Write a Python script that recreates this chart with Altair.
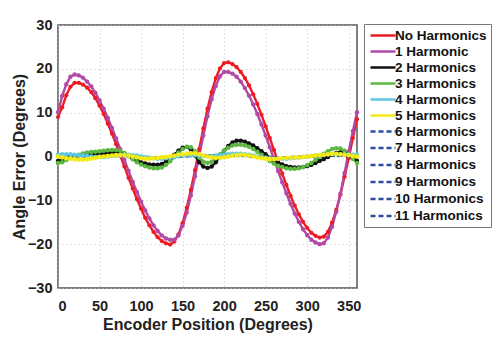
import altair as alt
import pandas as pd

angles = list(range(0, 361, 5))

series_names = ["No Harmonics", "1 Harmonic", "2 Harmonics", "3 Harmonics", "4 Harmonics",
                "5 Harmonics", "6 Harmonics", "7 Harmonics", "8 Harmonics", "9 Harmonics",
                "10 Harmonics", "11 Harmonics"]

no_harm = [9.0, 11.2, 14.0, 15.9, 16.8, 16.8, 16.4, 15.7, 14.7, 13.3, 11.6, 9.7, 7.5, 5.2, 2.8, 0.2,
           -2.3, -4.9, -7.3, -9.7, -11.9, -14.0, -15.7, -17.2, -18.4, -19.3, -19.8, -20.1, -19.4, -17.8,
           -15.2, -11.7, -7.6, -3.1, 1.7, 6.4, 10.9, 14.7, 17.9, 20.1, 21.3, 21.5, 21.1, 20.4, 19.3,
           17.9, 16.2, 14.2, 12.0, 9.5, 6.9, 4.2, 1.5, -1.3, -3.9, -6.5, -9.0, -11.2, -13.2, -14.9,
           -16.3, -17.4, -18.1, -18.5, -18.3, -17.2, -15.1, -12.2, -8.7, -4.6, -0.4, 4.2, 8.5]
harm1 = [10.1, 13.8, 16.5, 18.2, 18.7, 18.5, 18.0, 17.1, 16.0, 14.5, 12.8, 10.9, 8.8, 6.5, 4.1, 1.7,
         -0.8, -3.3, -5.8, -8.1, -10.3, -12.3, -14.1, -15.7, -17.0, -18.0, -18.7, -19.0, -19.0, -18.0,
         -15.8, -12.8, -8.9, -4.5, 0.2, 4.8, 9.2, 13.1, 16.1, 18.3, 19.3, 19.3, 18.9, 18.2, 17.1,
         15.6, 13.9, 11.9, 9.7, 7.3, 4.8, 2.1, -0.6, -3.3, -5.9, -8.4, -10.8, -13.0, -14.9, -16.6,
         -17.9, -19.0, -19.6, -20.0, -19.8, -18.5, -16.0, -12.6, -8.5, -3.8, 1.1, 5.8, 10.1]
harm2 = [-1.0, -0.7, -0.4, -0.1, 0.1, 0.3, 0.4, 0.5, 0.5, 0.6, 0.6, 0.7, 0.8, 0.9, 0.9, 0.8,
         0.5, 0.1, -0.4, -0.9, -1.3, -1.6, -1.8, -1.9, -1.9, -1.7, -1.2, -0.5, 0.4, 1.3,
         2.0, 2.2, 1.6, 0.2, -1.3, -2.3, -2.6, -2.3, -1.3, 0.0, 1.3, 2.4, 3.2, 3.6, 3.6,
         3.4, 3.0, 2.5, 1.9, 1.2, 0.5, -0.3, -0.9, -1.4, -1.8, -2.2, -2.4, -2.5, -2.5, -2.4,
         -2.2, -1.9, -1.5, -1.0, -0.6, -0.1, 0.4, 0.8, 1.0, 0.8, 0.3, -0.4, -1.0]
harm3 = [-1.5, -1.3, -0.8, -0.3, 0.1, 0.4, 0.7, 0.9, 1.0, 1.1, 1.2, 1.3, 1.4, 1.5, 1.5, 1.3,
         0.8, 0.1, -0.6, -1.3, -1.8, -2.2, -2.5, -2.7, -2.7, -2.5, -1.9, -1.1, -0.1, 0.9,
         1.7, 2.2, 2.1, 1.2, -0.2, -1.2, -1.5, -1.2, -0.4, 0.5, 1.3, 2.0, 2.5, 2.7, 2.7,
         2.5, 2.2, 1.7, 1.1, 0.4, -0.3, -1.0, -1.6, -2.1, -2.4, -2.7, -2.8, -2.8, -2.7, -2.4,
         -2.0, -1.5, -0.8, -0.1, 0.6, 1.2, 1.7, 1.9, 1.8, 1.3, 0.5, -0.5, -1.5]
harm4 = [0.4, 0.5, 0.5, 0.5, 0.4, 0.3, 0.2, 0.1, 0.0, -0.1, -0.1, -0.1, 0.0, 0.1, 0.2, 0.3,
         0.4, 0.4, 0.3, 0.2, 0.0, -0.2, -0.3, -0.4, -0.5, -0.5, -0.4, -0.3, -0.1, 0.1,
         0.2, 0.3, 0.3, 0.3, 0.2, 0.1, 0.1, 0.1, 0.2, 0.3, 0.4, 0.5, 0.6, 0.6, 0.6,
         0.5, 0.4, 0.2, 0.0, -0.2, -0.3, -0.4, -0.5, -0.5, -0.5, -0.5, -0.4, -0.3, -0.2, -0.1,
         0.0, 0.1, 0.2, 0.3, 0.4, 0.5, 0.5, 0.5, 0.5, 0.5, 0.4, 0.4, 0.4]
harm5 = [0.0, -0.2, -0.4, -0.5, -0.6, -0.7, -0.7, -0.6, -0.5, -0.3, -0.1, 0.0, 0.1, 0.2, 0.3, 0.3,
         0.3, 0.2, 0.0, -0.2, -0.4, -0.5, -0.5, -0.4, -0.3, -0.2, -0.1, 0.0, 0.2, 0.4,
         0.5, 0.6, 0.7, 0.7, 0.5, 0.2, 0.0, -0.2, -0.3, -0.3, -0.2, 0.0, 0.2, 0.3, 0.4,
         0.3, 0.2, 0.0, -0.2, -0.4, -0.5, -0.6, -0.6, -0.5, -0.4, -0.3, -0.3, -0.2, -0.2, -0.1,
         0.0, 0.1, 0.2, 0.3, 0.4, 0.5, 0.6, 0.6, 0.5, 0.4, 0.3, 0.1, 0.0]
harm6 = [0.1, 0.1, 0.1, 0.0, 0.0, -0.1, -0.1, -0.1, 0.0, 0.0, 0.1, 0.2, 0.3, 0.3, 0.4, 0.4,
         0.3, 0.2, 0.1, 0.0, -0.1, -0.2, -0.3, -0.3, -0.4, -0.3, -0.3, -0.2, -0.1, 0.0,
         0.1, 0.2, 0.3, 0.3, 0.3, 0.3, 0.3, 0.3, 0.3, 0.3, 0.4, 0.4, 0.4, 0.4, 0.3,
         0.2, 0.1, 0.0, -0.1, -0.2, -0.3, -0.3, -0.4, -0.4, -0.3, -0.3, -0.2, -0.2, -0.1, -0.1,
         0.0, 0.0, 0.1, 0.1, 0.2, 0.2, 0.3, 0.3, 0.2, 0.2, 0.1, 0.1, 0.1]
harm7 = [0.1, 0.1, 0.0, 0.0, -0.1, -0.1, -0.1, 0.0, 0.0, 0.1, 0.1, 0.2, 0.3, 0.4, 0.4, 0.4,
         0.3, 0.2, 0.1, -0.1, -0.2, -0.3, -0.3, -0.4, -0.4, -0.3, -0.2, -0.2, -0.1, 0.0,
         0.1, 0.2, 0.2, 0.3, 0.3, 0.3, 0.3, 0.3, 0.3, 0.4, 0.4, 0.4, 0.4, 0.3, 0.3,
         0.2, 0.1, 0.0, -0.1, -0.2, -0.2, -0.3, -0.3, -0.3, -0.3, -0.2, -0.2, -0.1, -0.1, 0.0,
         0.0, 0.1, 0.1, 0.2, 0.2, 0.3, 0.3, 0.2, 0.2, 0.2, 0.1, 0.1, 0.1]
harm8 = [0.0, 0.1, 0.1, 0.0, 0.0, -0.1, -0.1, -0.1, -0.1, 0.0, 0.1, 0.2, 0.2, 0.3, 0.3, 0.4,
         0.3, 0.3, 0.1, 0.0, -0.1, -0.2, -0.3, -0.4, -0.4, -0.4, -0.3, -0.2, -0.1, 0.0,
         0.1, 0.1, 0.2, 0.3, 0.3, 0.3, 0.2, 0.2, 0.3, 0.3, 0.3, 0.4, 0.4, 0.4, 0.3,
         0.3, 0.2, 0.0, -0.1, -0.2, -0.3, -0.4, -0.4, -0.4, -0.3, -0.3, -0.2, -0.2, -0.1, -0.1,
         -0.1, 0.0, 0.1, 0.1, 0.2, 0.2, 0.2, 0.3, 0.3, 0.2, 0.2, 0.1, 0.0]
harm9 = [0.1, 0.0, 0.0, 0.0, -0.1, -0.1, -0.2, -0.1, -0.1, 0.0, 0.1, 0.1, 0.2, 0.3, 0.3, 0.3,
         0.3, 0.2, 0.2, 0.0, -0.1, -0.2, -0.2, -0.3, -0.3, -0.3, -0.3, -0.2, -0.1, -0.1,
         0.0, 0.1, 0.2, 0.2, 0.3, 0.3, 0.3, 0.2, 0.2, 0.3, 0.3, 0.3, 0.3, 0.3, 0.3,
         0.2, 0.1, 0.1, 0.0, -0.1, -0.2, -0.3, -0.3, -0.3, -0.3, -0.2, -0.2, -0.1, -0.1, 0.0,
         0.0, 0.0, 0.1, 0.2, 0.2, 0.3, 0.3, 0.3, 0.2, 0.1, 0.1, 0.1, 0.1]
harm10 = [0.1, 0.1, 0.1, 0.1, 0.0, 0.0, -0.1, -0.1, 0.0, 0.0, 0.0, 0.1, 0.2, 0.3, 0.3, 0.3,
          0.3, 0.2, 0.1, 0.0, -0.1, -0.1, -0.2, -0.3, -0.3, -0.3, -0.2, -0.2, -0.1, 0.0,
          0.1, 0.1, 0.2, 0.2, 0.2, 0.2, 0.3, 0.3, 0.3, 0.3, 0.3, 0.4, 0.3, 0.3, 0.3,
          0.2, 0.1, 0.0, 0.0, -0.1, -0.2, -0.3, -0.3, -0.3, -0.3, -0.2, -0.2, -0.2, -0.1, -0.1,
          0.0, 0.0, 0.1, 0.1, 0.2, 0.2, 0.2, 0.2, 0.2, 0.2, 0.1, 0.1, 0.1]
harm11 = [0.0, 0.0, 0.0, 0.0, 0.0, -0.1, -0.1, -0.1, 0.0, 0.0, 0.1, 0.1, 0.2, 0.2, 0.3, 0.3,
          0.3, 0.2, 0.1, 0.0, -0.1, -0.2, -0.2, -0.3, -0.3, -0.3, -0.2, -0.2, -0.1, 0.0,
          0.1, 0.1, 0.2, 0.2, 0.3, 0.3, 0.3, 0.3, 0.3, 0.3, 0.3, 0.3, 0.3, 0.3, 0.2,
          0.2, 0.1, 0.0, -0.1, -0.1, -0.2, -0.3, -0.3, -0.3, -0.3, -0.3, -0.2, -0.2, -0.1, -0.1,
          0.0, 0.0, 0.1, 0.1, 0.1, 0.2, 0.2, 0.2, 0.2, 0.2, 0.1, 0.1, 0.0]

series_values = [no_harm, harm1, harm2, harm3, harm4, harm5, harm6, harm7, harm8,
                 harm9, harm10, harm11]

colors = ["#ed1c24", "#b04aa6", "#111111", "#5cb841", "#5ec6e6", "#f5ea14",
          "#2d4da3", "#2d4da3", "#2d4da3", "#2d4da3", "#2d4da3", "#2d4da3"]
dashes = [[1, 0]] * 6 + [[5, 3]] * 6
widths = [2.4, 2.6, 2.2, 3.0, 2.6, 2.6, 2.8, 2.8, 2.8, 2.8, 2.8, 2.8]
marker_sizes = [18, 22, 14, 34, 16, 18]

rows = []
for k, (name, vals) in enumerate(zip(series_names, series_values)):
    for a, v in zip(angles, vals):
        rows.append({"angle": a, "error": v, "series": name, "order": k})
df = pd.DataFrame(rows)

font = "Liberation Sans"

x_enc = alt.X("angle:Q", scale=alt.Scale(domain=[0, 360], nice=False),
              axis=alt.Axis(values=list(range(0, 351, 50)), title="Encoder Position (Degrees)"))
y_enc = alt.Y("error:Q", scale=alt.Scale(domain=[-30, 30], nice=False),
              axis=alt.Axis(values=list(range(-30, 31, 10)), title="Angle Error (Degrees)"))

color_enc = alt.Color("series:N", sort=series_names,
                      scale=alt.Scale(domain=series_names, range=colors),
                      legend=alt.Legend(title=None, orient="none", legendX=306, legendY=-1,
                                        symbolType="M-2,0L2,0", symbolSize=156,
                                        symbolOffset=7,
                                        labelFont=font, labelFontSize=13.5,
                                        labelFontWeight="bold", labelColor="#111111",
                                        strokeColor="#777777", fillColor="white",
                                        padding=4, rowPadding=2, labelOffset=4,
                                        labelLimit=200))
dash_enc = alt.StrokeDash("series:N", sort=series_names,
                          scale=alt.Scale(domain=series_names, range=dashes),
                          legend=alt.Legend(title=None))
width_enc = alt.StrokeWidth("series:N", sort=series_names,
                            scale=alt.Scale(domain=series_names, range=widths),
                            legend=alt.Legend(title=None))

lines = alt.Chart(df).mark_line().encode(
    x=x_enc, y=y_enc, color=color_enc, strokeDash=dash_enc, strokeWidth=width_enc,
    order="angle:Q",
)

points = alt.Chart(df).transform_filter(
    alt.datum.order < 6
).mark_point(filled=True, opacity=1).encode(
    x="angle:Q", y="error:Q",
    color=alt.Color("series:N", scale=alt.Scale(domain=series_names, range=colors), legend=None),
    size=alt.Size("series:N", scale=alt.Scale(domain=series_names[:6], range=marker_sizes), legend=None),
)

chart = alt.layer(lines, points).properties(
    width=299, height=263,
    autosize=alt.AutoSizeParams(type="none"),
    padding={"left": 58, "top": 25, "right": 143, "bottom": 52},
    background="white",
).configure_view(
    stroke="#555555", strokeWidth=1.5
).configure_axis(
    labelFont=font, labelFontSize=14.5, labelFontWeight="bold", labelColor="#222222",
    titleFont=font, titleFontSize=16, titleFontWeight="bold", titleColor="#222222",
    grid=True, gridColor="#c4c4c4", gridDash=[1, 3], gridWidth=1,
    domain=False, ticks=False,
).configure_axisX(
    labelPadding=11, titlePadding=4,
).configure_axisY(
    labelPadding=6, titlePadding=0,
)

chart.save("out.html", embed_options={"renderer": "svg", "actions": False})
